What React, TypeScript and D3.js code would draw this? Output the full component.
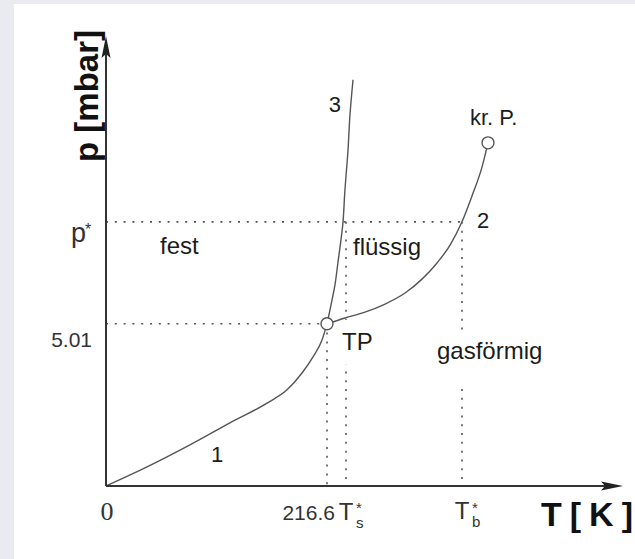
import * as d3 from "d3";
import { useEffect, useRef } from "react";

const width = 635;
const height = 559;

// Sublimation curve (1): T [K], p [mbar]
const sublimationT = [0, 40.2, 82.3, 121.5, 157.8, 177.4, 192.1, 202.9, 211.7, 216.6];
const sublimationP = [0, 0.59, 1.27, 1.95, 2.56, 2.97, 3.49, 3.99, 4.51, 5.01];

// Melting curve (3)
const meltingT = [216.6, 220.5, 224.4, 227.4, 230.3, 232.3, 234.2, 237.2, 239.1, 242.1];
const meltingP = [5.01, 5.59, 6.21, 6.92, 7.6, 8.16, 9.15, 10.38, 11.46, 12.55];

// Vapour pressure curve (2), ends at the critical point
const boilingT = [216.6, 234.2, 253.8, 273.5, 293.1, 309.7, 324.4, 337.2, 348.9, 358.7, 368.5, 374.4];
const boilingP = [5.01, 5.19, 5.37, 5.62, 5.96, 6.39, 6.89, 7.44, 8.16, 8.96, 9.85, 10.6];

// special points
const tripleT = 216.6;
const tripleP = 5.01;
const criticalT = 374.4;
const criticalP = 10.6;
const meltStarT = 235.2; // T*s
const boilStarT = 348.9; // T*b
const starP = 8.16; // p*
const axisMaxT = 506.7;
const axisMaxP = 13.9;

// ticks
const xTickValues = [0, 216.6, meltStarT, boilStarT];
const xTickLabels = ["0", "216.6", "T", "T"];
const xTickSubs = ["", "", "s", "b"];
const yTickValues = [tripleP, starP];
const yTickLabels = ["5.01", "p"];

// annotations (data coords)
const regionNames = ["fest", "flüssig", "gasförmig"];
const regionT = [52.9, 242.1, 324.4];
const regionP = [7.17, 7.14, 3.92];
const curveNames = ["1", "2", "3"];
const curveLabelT = [108.8, 369.5, 224.4];
const curveLabelP = [0.74, 7.97, 11.56];

const sans = "'Liberation Sans', Arial, Helvetica, sans-serif";

function PhaseDiagram() {
  const ref = useRef(null);

  useEffect(() => {
    const svg = d3.select(ref.current);
    svg.selectAll("*").remove();

    const x = d3.scaleLinear().domain([0, axisMaxT]).range([106, 623]);
    const y = d3.scaleLinear().domain([0, axisMaxP]).range([486, 36]);

    // page background
    svg.append("rect").attr("width", width).attr("height", height).attr("fill", "#e9ebf0");
    svg.append("rect").attr("x", 14).attr("y", 4).attr("width", width - 14).attr("height", height - 4).attr("fill", "#fff");

    const gGrid = svg.append("g");
    const gMask = svg.append("g");
    const gCurves = svg.append("g");
    const gText = svg.append("g").attr("font-family", sans).attr("fill", "#1c1c1c");

    // dotted helper lines
    const dotted = (x1: number, y1: number, x2: number, y2: number) =>
      gGrid
        .append("line")
        .attr("x1", x1).attr("y1", y1).attr("x2", x2).attr("y2", y2)
        .attr("stroke", "#555")
        .attr("stroke-width", 1.6)
        .attr("stroke-dasharray", "2 6.8");
    dotted(x(0), y(starP), x(boilStarT), y(starP));
    dotted(x(0), y(tripleP), x(tripleT), y(tripleP));
    dotted(x(tripleT), y(tripleP), x(tripleT), y(0));
    dotted(x(meltStarT), y(starP), x(meltStarT), y(0));
    dotted(x(boilStarT), y(starP), x(boilStarT), y(0));

    // curves
    const lineY = d3
      .line<[number, number]>()
      .x((d) => x(d[0]))
      .y((d) => y(d[1]))
      .curve(d3.curveCatmullRom.alpha(0.5));
    const lineX = d3
      .line<[number, number]>()
      .x((d) => x(d[0]))
      .y((d) => y(d[1]))
      .curve(d3.curveMonotoneX);
    const curves: [[number, number][], typeof lineX][] = [
      [d3.zip(sublimationT, sublimationP) as [number, number][], lineX],
      [d3.zip(meltingT, meltingP) as [number, number][], lineY],
      [d3.zip(boilingT, boilingP) as [number, number][], lineX],
    ];
    curves.forEach(([pts, gen]) => {
      gCurves
        .append("path")
        .attr("d", gen(pts))
        .attr("fill", "none")
        .attr("stroke", "#555")
        .attr("stroke-width", 1.4);
    });

    // triple point and critical point
    [
      [tripleT, tripleP],
      [criticalT, criticalP],
    ].forEach(([t, p]) => {
      gCurves
        .append("circle")
        .attr("cx", x(t))
        .attr("cy", y(p))
        .attr("r", 6)
        .attr("fill", "#fff")
        .attr("stroke", "#555")
        .attr("stroke-width", 1.4);
    });

    // axes
    gCurves.append("line")
      .attr("x1", x(0)).attr("y1", y(0)).attr("x2", x(0)).attr("y2", y(axisMaxP) + 10)
      .attr("stroke", "#333").attr("stroke-width", 2);
    gCurves.append("line")
      .attr("x1", x(0)).attr("y1", y(0)).attr("x2", x(axisMaxT) - 10).attr("y2", y(0))
      .attr("stroke", "#333").attr("stroke-width", 2);
    const ax = x(0);
    const ay = y(axisMaxP);
    gCurves.append("path")
      .attr("d", `M${ax},${ay} L${ax + 4.5},${ay + 22} L${ax},${ay + 18} L${ax - 4.5},${ay + 22} Z`)
      .attr("fill", "#222");
    const bx = x(axisMaxT);
    const by = y(0);
    gCurves.append("path")
      .attr("d", `M${bx},${by} L${bx - 22},${by - 4.5} L${bx - 18},${by} L${bx - 22},${by + 4.5} Z`)
      .attr("fill", "#222");

    // axis titles
    gText.append("text")
      .attr("transform", `translate(98,${96}) rotate(-90)`)
      .attr("text-anchor", "middle")
      .attr("font-size", 33)
      .attr("font-weight", "bold")
      .attr("fill", "#111")
      .text("p [mbar]");
    gText.append("text")
      .attr("x", 541)
      .attr("y", 526)
      .attr("font-size", 34)
      .attr("font-weight", "bold")
      .attr("fill", "#111")
      .attr("textLength", 92)
      .attr("lengthAdjust", "spacing")
      .text("T [ K ]");

    // x tick labels
    xTickValues.forEach((v, i) => {
      const px = x(v);
      if (i === 0) {
        gText.append("text")
          .attr("x", px + 1).attr("y", 520)
          .attr("text-anchor", "middle")
          .attr("font-family", "'Liberation Serif', 'Times New Roman', serif")
          .attr("font-size", 26)
          .attr("fill", "#333")
          .text(xTickLabels[i]);
      } else if (xTickSubs[i] === "") {
        gText.append("text")
          .attr("x", px + 8).attr("y", 520)
          .attr("text-anchor", "end")
          .attr("font-size", 21)
          .attr("fill", "#333")
          .text(xTickLabels[i]);
      } else {
        const base = xTickSubs[i] === "s" ? 520 : 518.5;
        gText.append("text")
          .attr("x", px).attr("y", base)
          .attr("text-anchor", "middle")
          .attr("font-size", 24)
          .attr("fill", "#333")
          .text(xTickLabels[i]);
        gText.append("text")
          .attr("x", px + 10).attr("y", base + 8)
          .attr("font-size", 15)
          .attr("fill", "#333")
          .text(xTickSubs[i]);
        gText.append("text")
          .attr("x", px + 10).attr("y", 513)
          .attr("font-size", 15)
          .attr("fill", "#333")
          .text("*");
      }
    });

    // y tick labels
    yTickValues.forEach((v, i) => {
      const py = y(v);
      if (yTickLabels[i] === "p") {
        gText.append("text")
          .attr("x", 86).attr("y", py + 20)
          .attr("text-anchor", "end")
          .attr("font-size", 27)
          .attr("fill", "#333")
          .text("p");
        gText.append("text")
          .attr("x", 85).attr("y", py + 13)
          .attr("font-size", 16)
          .attr("fill", "#333")
          .text("*");
      } else {
        gText.append("text")
          .attr("x", 92).attr("y", py + 23)
          .attr("text-anchor", "end")
          .attr("font-size", 21)
          .attr("fill", "#333")
          .text(yTickLabels[i]);
      }
    });

    // label with white box that hides the dotted lines behind it
    const boxed = (t: d3.Selection<SVGTextElement, unknown, null, undefined>, padX: number, padTop: number, padBottom: number) => {
      const b = (t.node() as SVGTextElement).getBBox();
      gMask.append("rect")
        .attr("x", b.x - padX)
        .attr("y", b.y - padTop)
        .attr("width", b.width + padX * 2)
        .attr("height", b.height + padTop + padBottom)
        .attr("fill", "#fff");
    };

    regionNames.forEach((name, i) => {
      const t = gText.append("text")
        .attr("x", x(regionT[i]))
        .attr("y", y(regionP[i]))
        .attr("font-size", 24)
        .text(name);
      if (name === "gasförmig") boxed(t, 3, 4, 22);
    });

    const tp = gText.append("text")
      .attr("x", x(tripleT) + 15)
      .attr("y", y(tripleP) + 26)
      .attr("font-size", 24)
      .text("TP");
    boxed(tp, 3, 8, 10);

    gText.append("text")
      .attr("x", x(criticalT) - 18)
      .attr("y", y(criticalP) - 18)
      .attr("font-size", 22)
      .text("kr. P.");

    curveNames.forEach((name, i) => {
      gText.append("text")
        .attr("x", x(curveLabelT[i]))
        .attr("y", y(curveLabelP[i]))
        .attr("text-anchor", "middle")
        .attr("font-size", 22)
        .text(name);
    });
  });

  return (
    <svg
      ref={ref}
      width={width}
      height={height}
      style={{ position: "absolute", left: 0, top: 0, display: "block" }}
    />
  );
}

export default function App() {
  return <PhaseDiagram />;
}
